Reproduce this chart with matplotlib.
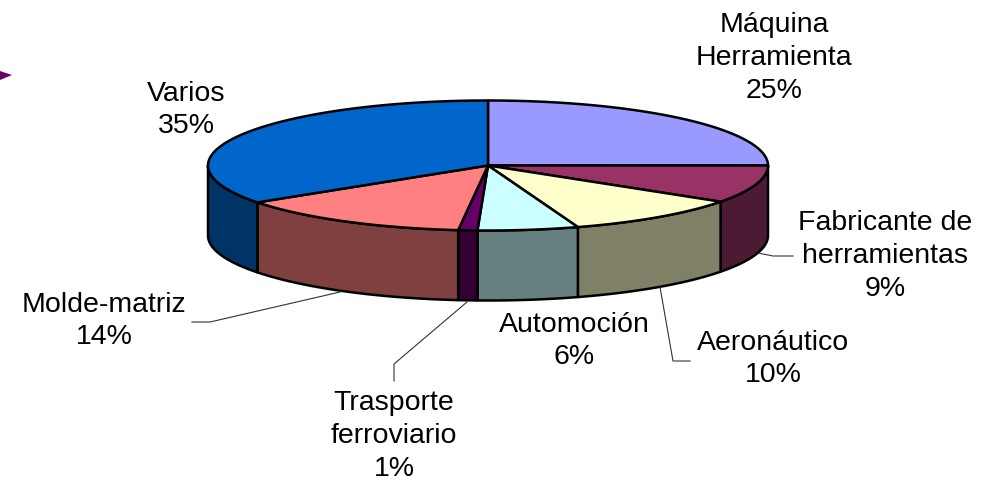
import numpy as np
import matplotlib
matplotlib.use('Agg')
import matplotlib.pyplot as plt
from matplotlib.patches import Polygon

plt.rcParams['font.family'] = ['Liberation Sans', 'DejaVu Sans']

# Data
labels = ['Máquina\nHerramienta', 'Fabricante de\nherramientas', 'Aeronáutico', 'Automoción',
          'Trasporte\nferroviario', 'Molde-matriz', 'Varios']
percent_labels = ['25%', '9%', '10%', '6%', '1%', '14%', '35%']
# slice sizes as measured on the pie, the labels are these rounded
values = [25.0, 9.4, 10.4, 5.8, 1.1, 13.7, 34.6]
top_colors = ['#9999FF', '#993366', '#FFFFCC', '#CCFFFF', '#660066', '#FF8080', '#0066CC']
side_colors = ['#4D4D80', '#4D1A33', '#808066', '#668080', '#330033', '#804040', '#003366']

# Label centres in pixels
label_x = [774, 885, 773, 574, 394, 104, 186]
label_y = [58, 256, 359, 341, 436, 321, 110]

# Leader lines in pixels
leaders = [
    ([758, 773, 793], [253, 256, 256]),
    ([660, 673, 690], [287, 361, 361]),
    ([467, 394, 394], [302, 364, 381]),
    ([340, 210, 192], [292, 322, 322]),
]

# Pie geometry
cx, cy = 488, 165.5
rx, ry = 280, 65
depth = 70


def rim(t):
    return cx + rx * np.sin(t), cy - ry * np.cos(t)


fig = plt.figure(figsize=(9.92, 4.83), dpi=100)
ax = fig.add_axes([0, 0, 1, 1])
ax.set_xlim(0, 992)
ax.set_ylim(483, 0)
ax.axis('off')

# Small purple arrow cut by the left edge
ax.add_patch(Polygon([(0, 71), (12, 75), (0, 80)], closed=True, fc='#660066', ec='none'))

edges = np.cumsum([0] + values) / sum(values) * 2 * np.pi

# Side walls, only the front half of the rim shows
for i in range(len(values)):
    t0 = max(edges[i], np.pi / 2)
    t1 = min(edges[i + 1], 3 * np.pi / 2)
    if t1 <= t0:
        continue
    t = np.linspace(t0, t1, 60)
    x, y = rim(t)
    pts = np.column_stack([np.r_[x, x[::-1]], np.r_[y, (y + depth)[::-1]]])
    ax.add_patch(Polygon(pts, closed=True, fc=side_colors[i], ec='black', lw=1.8, joinstyle='round'))

# Top faces
for i in range(len(values)):
    t = np.linspace(edges[i], edges[i + 1], 100)
    x, y = rim(t)
    pts = np.column_stack([np.r_[cx, x], np.r_[cy, y]])
    ax.add_patch(Polygon(pts, closed=True, fc=top_colors[i], ec='black', lw=1.8, joinstyle='round'))

for xs, ys in leaders:
    ax.plot(xs, ys, color='#333333', lw=0.8)

for lab, pct, x, y in zip(labels, percent_labels, label_x, label_y):
    ax.text(x, y, f'{lab}\n{pct}', ha='center', va='center', fontsize=20.5,
            color='black', linespacing=1.34)

fig.savefig('out.png', dpi=100)
